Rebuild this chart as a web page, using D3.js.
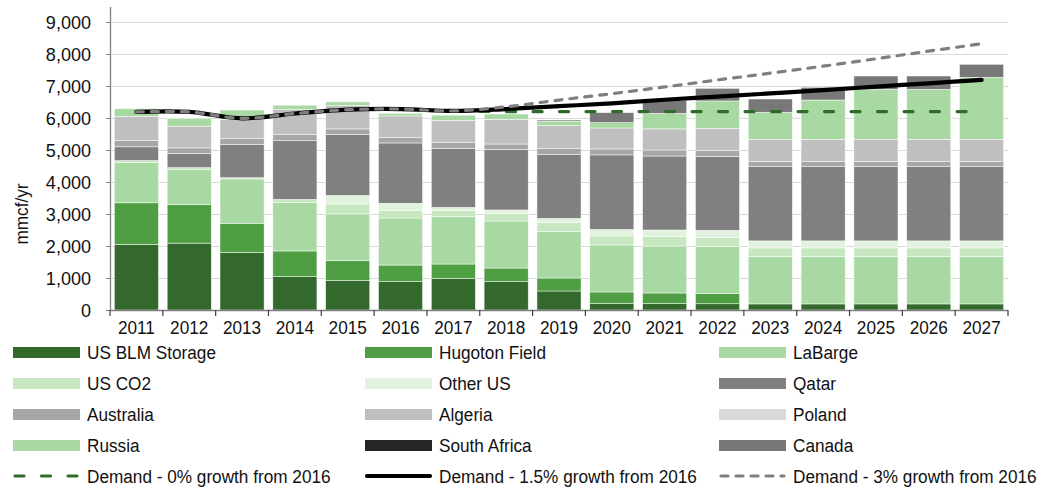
<!DOCTYPE html>
<html><head><meta charset="utf-8">
<script src="https://cdn.jsdelivr.net/npm/d3@7"></script>
<style>
html,body{margin:0;padding:0;background:#fff;}
svg{display:block;}
text{font-family:"Liberation Sans Narrow","Arial Narrow","Liberation Sans",Arial,sans-serif;fill:#111;}
</style></head>
<body>
<svg id="chart" width="1048" height="491"></svg>
<script>
const years = ["2011","2012","2013","2014","2015","2016","2017","2018","2019","2020","2021","2022","2023","2024","2025","2026","2027"];
const usBLM      = [2050,2090,1800,1045,920,885,990,885,594,200,198,195,190,190,190,190,190];
const hugoton    = [1300,1200,910,800,625,520,447,427,406,364,333,326,0,0,0,0,0];
const laBarge    = [1260,1110,1385,1510,1458,1470,1480,1470,1448,1469,1469,1458,1480,1480,1480,1480,1480];
const usCO2      = [60,50,40,100,310,240,190,240,292,282,292,281,270,270,270,270,270];
const otherUS    = [0,0,0,0,270,220,100,104,125,203,208,230,220,220,220,220,220];
const qatar      = [430,440,1035,1835,1900,1885,1835,1896,1989,2329,2312,2312,2320,2320,2320,2320,2320];
const australia  = [195,175,185,195,175,170,187,166,188,186,188,180,155,155,155,155,155];
const algeria    = [755,680,600,780,730,675,700,771,718,656,660,697,700,700,700,700,700];
const poland     = [0,0,0,0,0,0,0,0,0,0,0,0,0,0,0,0,0];
const russia     = [240,240,295,135,115,80,160,165,140,165,486,854,845,1228,1561,1561,1936];
const southAfrica= [0,0,0,0,0,0,0,0,0,0,0,0,0,0,0,0,0];
const canada     = [0,0,0,0,0,0,0,0,37,313,396,394,414,396,416,416,406];

const demand0   = [6190,6190,5990,6140,6260,6280,6220,6200,6200,6200,6200,6200,6200,6200,6200,6200,6200];
const demand15  = [6190,6190,5990,6140,6260,6280,6220,6280,6370,6460,6570,6670,6770,6870,6980,7085,7190];
const demand3   = [6190,6190,5990,6140,6260,6280,6220,6350,6560,6760,6970,7190,7400,7620,7850,8090,8320];

const yTicks = [0,1000,2000,3000,4000,5000,6000,7000,8000,9000];

const barSeries = [
  {name:"US BLM Storage", values:usBLM, color:"#34692e"},
  {name:"Hugoton Field", values:hugoton, color:"#4f9e43"},
  {name:"LaBarge", values:laBarge, color:"#a9d9a2"},
  {name:"US CO2", values:usCO2, color:"#c6e7c0"},
  {name:"Other US", values:otherUS, color:"#e1f2de"},
  {name:"Qatar", values:qatar, color:"#808080"},
  {name:"Australia", values:australia, color:"#a6a6a6"},
  {name:"Algeria", values:algeria, color:"#bfbfbf"},
  {name:"Poland", values:poland, color:"#d9d9d9"},
  {name:"Russia", values:russia, color:"#a9d9a2"},
  {name:"South Africa", values:southAfrica, color:"#262626"},
  {name:"Canada", values:canada, color:"#787878"}
];
const lineSeries = [
  {name:"Demand - 0% growth from 2016", values:demand0, color:"#2f6b29", width:3.2, dash:"9,17.5"},
  {name:"Demand - 1.5% growth from 2016", values:demand15, color:"#000000", width:4.2, dash:null},
  {name:"Demand - 3% growth from 2016", values:demand3, color:"#7f7f7f", width:3.2, dash:"7,8"}
];

const SX = 0.905;
const svg = d3.select("#chart");
const x0 = 110, x1 = 1008, yBottom = 310;
const x = d3.scaleBand().domain(years).range([x0, x1]).paddingInner(0.165).paddingOuter(0.0825);
const y = d3.scaleLinear().domain([0, 9000]).range([yBottom, 22]);

// grid
svg.append("g").selectAll("line").data(yTicks.filter(d=>d>0)).join("line")
  .attr("x1", x0).attr("x2", x1).attr("y1", d=>Math.round(y(d))+0.5).attr("y2", d=>Math.round(y(d))+0.5)
  .attr("stroke", "#d9d9d9").attr("stroke-width", 1);

// stacked bars
const table = years.map((yr,i)=>{const o={year:yr}; barSeries.forEach(s=>o[s.name]=s.values[i]); return o;});
const stack = d3.stack().keys(barSeries.map(s=>s.name));
const stacked = stack(table);
svg.append("g").selectAll("g").data(stacked).join("g")
  .attr("fill", (d,i)=>barSeries[i].color)
  .selectAll("rect").data(d=>d.filter(v=>v[1]-v[0]>0)).join("rect")
  .attr("x", d=>x(d.data.year)).attr("width", x.bandwidth())
  .attr("y", d=>y(d[1])).attr("height", d=>y(d[0])-y(d[1]))
  .attr("stroke", "#ffffff").attr("stroke-width", 0.6).attr("stroke-opacity", 0.8);

// y axis
const yAxis = d3.axisLeft(y).tickValues(yTicks).tickSize(4).tickPadding(14).tickFormat(d3.format(","));
const gy = svg.append("g").attr("transform", `translate(${x0},0)`).call(yAxis);
gy.select(".domain").remove();
gy.selectAll(".tick line").attr("stroke", "#808080");
gy.selectAll(".tick text").style("font-size", "19px").attr("fill", "#111")
  .attr("x", -19/0.95).attr("transform", "scale(0.95,1)");
svg.append("line").attr("x1", x0+0.5).attr("x2", x0+0.5).attr("y1", 7).attr("y2", yBottom)
  .attr("stroke", "#808080").attr("stroke-width", 1.3);

// x axis
const gx = svg.append("g").attr("transform", `translate(0,${yBottom})`)
  .call(d3.axisBottom(x).tickSize(0).tickPadding(11));
gx.select(".domain").remove();
gx.selectAll(".tick text").style("font-size", "19px").attr("fill", "#111").attr("transform", `scale(${SX},1)`);
svg.append("line").attr("x1", x0).attr("x2", x1).attr("y1", yBottom+0.5).attr("y2", yBottom+0.5)
  .attr("stroke", "#808080").attr("stroke-width", 1.3);
const bounds = years.map(yr=>x(yr) - x.step()*x.paddingInner()/2).concat([x1]);
svg.append("g").selectAll("line").data(bounds).join("line")
  .attr("x1", d=>d).attr("x2", d=>d).attr("y1", yBottom).attr("y2", yBottom+6)
  .attr("stroke", "#404040").attr("stroke-width", 1.2);

// y title
svg.append("text").attr("transform", `translate(28,214) rotate(-90) scale(${SX},1)`)
  .attr("text-anchor", "middle").style("font-size", "19px").text("mmcf/yr");

// lines
const line = d3.line().x((d,i)=>x(years[i])+x.bandwidth()/2).y(d=>y(d)).curve(d3.curveCatmullRom.alpha(0.5));
lineSeries.forEach(s=>{
  svg.append("path").attr("d", line(s.values)).attr("fill", "none")
    .attr("stroke", s.color).attr("stroke-width", s.width)
    .attr("stroke-linecap", "round").attr("stroke-dasharray", s.dash);
});

// legend
const legendItems = barSeries.map(s=>({name:s.name, type:"bar", color:s.color}))
  .concat(lineSeries.map(s=>({name:s.name, type:"line", color:s.color, width:s.width, dash:s.dash})));
const colX = [13, 365, 719];
const rowY = [352.5, 383.5, 414.5, 445.5, 476];
const lg = svg.append("g").selectAll("g").data(legendItems).join("g")
  .attr("transform", (d,i)=>`translate(${colX[i%3]},${rowY[Math.floor(i/3)]})`);
lg.filter(d=>d.type==="bar").append("rect").attr("x",0).attr("y",-5.5).attr("width",67).attr("height",11)
  .attr("fill", d=>d.color);
lg.filter(d=>d.type==="line").append("line").attr("x1",2).attr("x2",65).attr("y1",0).attr("y2",0)
  .attr("stroke", d=>d.color).attr("stroke-width", d=>d.width).attr("stroke-linecap","round")
  .attr("stroke-dasharray", d=>d.dash);
lg.append("text").attr("x", 74/SX).attr("y", 0).attr("dy", "0.35em")
  .attr("transform", `scale(${SX},1)`).style("font-size", "19px").text(d=>d.name);
</script>
</body></html>
